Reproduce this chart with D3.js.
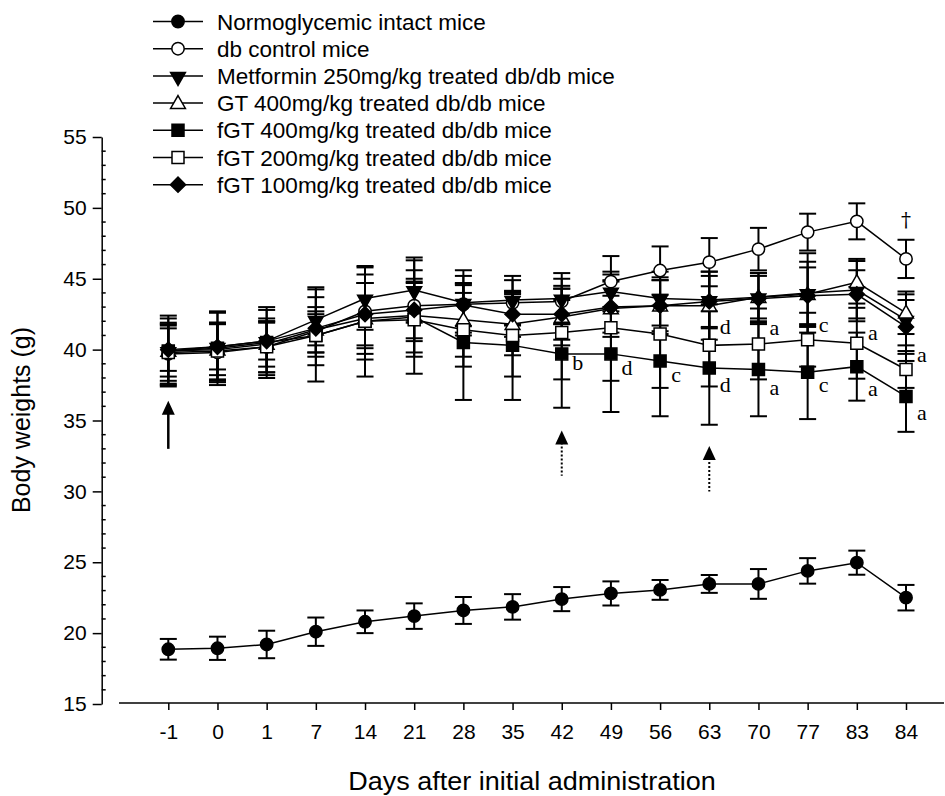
<!DOCTYPE html>
<html><head><meta charset="utf-8">
<script src="https://cdn.jsdelivr.net/npm/d3@7"></script>
<style>body{margin:0;background:#fff}svg{display:block}</style>
</head><body><svg id="c" width="945" height="796"></svg>
<script>
const days = ["-1","0","1","7","14","21","28","35","42","49","56","63","70","77","83","84"];
const yTicks = [15,20,25,30,35,40,45,50,55];

const seriesNames = ["Normoglycemic intact mice","db control mice","Metformin 250mg/kg treated db/db mice","GT 400mg/kg treated db/db mice","fGT 400mg/kg treated db/db mice","fGT 200mg/kg treated db/db mice","fGT 100mg/kg treated db/db mice"];

const normo      = [18.86,18.93,19.2,20.1,20.8,21.2,21.6,21.85,22.4,22.8,23.05,23.47,23.47,24.39,24.97,22.5];
const normoErr   = [0.73,0.82,0.97,1.0,0.8,0.9,0.95,0.9,0.85,0.85,0.7,0.63,1.05,0.9,0.85,0.9];
const dbCtrl     = [39.7,39.8,40.2,41.3,42.7,43.1,43.2,43.3,43.4,44.8,45.58,46.17,47.09,48.29,49.05,46.4];
const dbCtrlErr  = [2.2,2.1,2.0,2.4,2.6,2.5,2.0,1.6,1.6,1.8,1.7,1.7,1.5,1.3,1.27,1.35];
const metformin  = [39.9,40.2,40.6,42.1,43.6,44.2,43.3,43.5,43.6,44.1,43.6,43.5,43.7,44.0,44.2,42.1];
const metforminErr=[2.3,2.4,2.2,2.3,2.2,2.3,2.3,1.7,1.8,1.4,1.9,2.0,1.7,2.8,2.2,1.8];
const gt400      = [39.9,40.0,40.4,41.4,42.2,42.4,42.1,41.8,42.3,42.9,43.1,43.1,43.7,43.9,44.75,42.6];
const gt400Err   = [1.8,1.8,1.6,1.6,2.5,2.6,2.6,2.2,2.0,2.0,2.0,2.4,1.5,2.3,1.5,1.5];
const fgt400     = [39.9,40.1,40.5,41.0,42.0,42.3,40.5,40.3,39.7,39.7,39.2,38.7,38.6,38.4,38.8,36.7];
const fgt400Err  = [2.5,2.6,2.5,3.25,3.9,4.0,4.05,3.85,3.8,4.1,3.9,4.0,3.3,3.3,2.4,2.5];
const fgt200     = [39.8,39.9,40.2,41.0,42.0,42.1,41.4,41.0,41.2,41.55,41.1,40.3,40.4,40.7,40.45,38.6];
const fgt200Err  = [2.0,2.0,1.8,1.5,2.7,2.6,2.6,2.9,3.3,3.75,3.8,2.9,2.5,1.9,2.5,1.3];
const fgt100     = [40.0,40.2,40.6,41.5,42.5,42.8,43.15,42.5,42.5,43.0,43.1,43.4,43.6,43.8,43.9,41.6];
const fgt100Err  = [1.5,1.6,1.3,1.2,2.2,2.0,1.5,1.6,1.8,1.8,1.8,1.8,1.8,2.0,1.7,1.9];

// significance annotations
const annDays   = ["42","49","56","63","63","70","70","77","77","83","83","84","84"];
const annValues = [39.07,38.71,38.2,41.6,37.5,41.5,37.3,41.75,37.5,41.2,37.2,39.6,35.5];
const annText   = ["b","d","c","d","d","a","a","c","c","a","a","a","a"];
const daggerDay = "84", daggerValue = 49.15;

// administration arrows
const arrowDays  = ["-1","42","63"];
const arrowTips  = [36.4,34.3,33.2];
const arrowTails = [33.0,31.1,30.0];
const arrowDotted= [false,true,true];

const shapes = ["circle","circle","triDown","triUp","square","square","diamond"];
const filled = [true,false,true,false,true,false,true];
const values = [normo,dbCtrl,metformin,gt400,fgt400,fgt200,fgt100];
const errors = [normoErr,dbCtrlErr,metforminErr,gt400Err,fgt400Err,fgt200Err,fgt100Err];

const svg = d3.select("#c");
const x = d3.scalePoint().domain(days).range([168.3,906]);
const y = d3.scaleLinear().domain([15,55]).range([704,137]);
const FONT = "'Liberation Sans', Arial, sans-serif";
const SERIF = "'Liberation Serif', 'Times New Roman', serif";

function symPath(shape){
  if(shape==="circle") return d3.symbol(d3.symbolCircle, 120)();
  if(shape==="square") return d3.symbol(d3.symbolSquare, 144)();
  if(shape==="diamond") return d3.symbol(d3.symbolSquare, 115)();
  return d3.symbol(d3.symbolTriangle, 95)();
}
function symTransform(shape, px, py){
  if(shape==="diamond") return `translate(${px},${py}) rotate(45)`;
  if(shape==="triDown") return `translate(${px},${py+1}) rotate(180)`;
  if(shape==="triUp") return `translate(${px},${py+1})`;
  return `translate(${px},${py})`;
}

// Y axis
const yAxisG = svg.append("g").attr("transform","translate(101.7,0)");
yAxisG.call(d3.axisLeft(y).tickValues(yTicks).tickSize(9).tickPadding(6).tickSizeOuter(0));
const minorTicks = d3.range(15,55.01,1).filter(v=>v%5!==0);
yAxisG.selectAll(".minor").data(minorTicks).join("line").attr("class","minor")
  .attr("x1",0).attr("x2",4).attr("y1",d=>y(d)).attr("y2",d=>y(d));
yAxisG.selectAll("line,path").attr("stroke","#000").attr("stroke-width",1.5);
yAxisG.selectAll("text").attr("font-family",FONT).attr("font-size",21).attr("fill","#000");

// X axis
const xAxisG = svg.append("g").attr("transform","translate(0,703)");
xAxisG.call(d3.axisBottom(x).tickSize(7).tickPadding(14).tickSizeOuter(0));
xAxisG.select(".domain").attr("d","M119,0H944");
xAxisG.selectAll("line,path").attr("stroke","#000").attr("stroke-width",1.5);
xAxisG.selectAll("text").attr("font-family",FONT).attr("font-size",21).attr("fill","#000");

// axis titles
svg.append("text").attr("transform","translate(532,790) scale(1.08,1)").attr("text-anchor","middle")
  .attr("font-family",FONT).attr("font-size",25).attr("fill","#000").text("Days after initial administration");
svg.append("text").attr("transform","translate(30,420) rotate(-90)").attr("text-anchor","middle")
  .attr("font-family",FONT).attr("font-size",25).attr("fill","#000").text("Body weights (g)");

// lines
const line = d3.line().x((d,i)=>x(days[i])).y(d=>y(d));
values.forEach((vals,s)=>{
  svg.append("path").attr("d",line(vals)).attr("fill","none").attr("stroke","#000").attr("stroke-width",1.5);
});
// error bars
values.forEach((vals,s)=>{
  const g = svg.append("g").attr("stroke","#000").attr("stroke-width",2);
  vals.forEach((v,i)=>{
    const px = x(days[i]), e = errors[s][i];
    g.append("line").attr("x1",px).attr("x2",px).attr("y1",y(v+e)).attr("y2",y(v-e));
    g.append("line").attr("x1",px-8.5).attr("x2",px+8.5).attr("y1",y(v+e)).attr("y2",y(v+e));
    g.append("line").attr("x1",px-8.5).attr("x2",px+8.5).attr("y1",y(v-e)).attr("y2",y(v-e));
  });
});
// markers
values.forEach((vals,s)=>{
  svg.append("g").selectAll("path").data(vals).join("path")
    .attr("d",symPath(shapes[s]))
    .attr("transform",(d,i)=>symTransform(shapes[s],x(days[i]),y(d)))
    .attr("fill",filled[s]?"#000":"#fff").attr("stroke","#000").attr("stroke-width",1.5);
});

// annotations
svg.append("g").selectAll("text").data(annText).join("text")
  .attr("x",(d,i)=>x(annDays[i])+16).attr("y",(d,i)=>y(annValues[i]))
  .attr("dy","0.32em").attr("text-anchor","middle").attr("fill","#000")
  .attr("font-family",SERIF).attr("font-size",22).text(d=>d);
svg.append("text").attr("x",x(daggerDay)).attr("y",y(daggerValue)).attr("dy","0.35em")
  .attr("text-anchor","middle").attr("font-family","'DejaVu Serif', 'Liberation Serif', serif")
  .attr("fill","#000").attr("font-size",20).text("\u2020");

// arrows
arrowDays.forEach((d,i)=>{
  const px = x(d), tip = y(arrowTips[i]), tail = y(arrowTails[i]);
  svg.append("line").attr("x1",px).attr("x2",px).attr("y1",tip+12).attr("y2",tail)
    .attr("stroke","#000").attr("stroke-width",arrowDotted[i]?2:2.5)
    .attr("stroke-dasharray",arrowDotted[i]?"2,2":null);
  svg.append("path").attr("d",`M${px},${tip}L${px-6.5},${tip+14}L${px+6.5},${tip+14}Z`).attr("fill","#000");
});

// legend
const lg = svg.append("g");
seriesNames.forEach((name,s)=>{
  const ly = 21.5 + s*27.2;
  lg.append("line").attr("x1",153).attr("x2",203).attr("y1",ly).attr("y2",ly).attr("stroke","#000").attr("stroke-width",1.5);
  lg.append("path").attr("d",symPath(shapes[s])).attr("transform",symTransform(shapes[s],178,ly))
    .attr("fill",filled[s]?"#000":"#fff").attr("stroke","#000").attr("stroke-width",1.5);
  lg.append("text").attr("x",217).attr("y",ly).attr("dy","0.36em").attr("font-family",FONT)
    .attr("fill","#000").attr("font-size",22.5).text(name);
});
</script></body></html>
